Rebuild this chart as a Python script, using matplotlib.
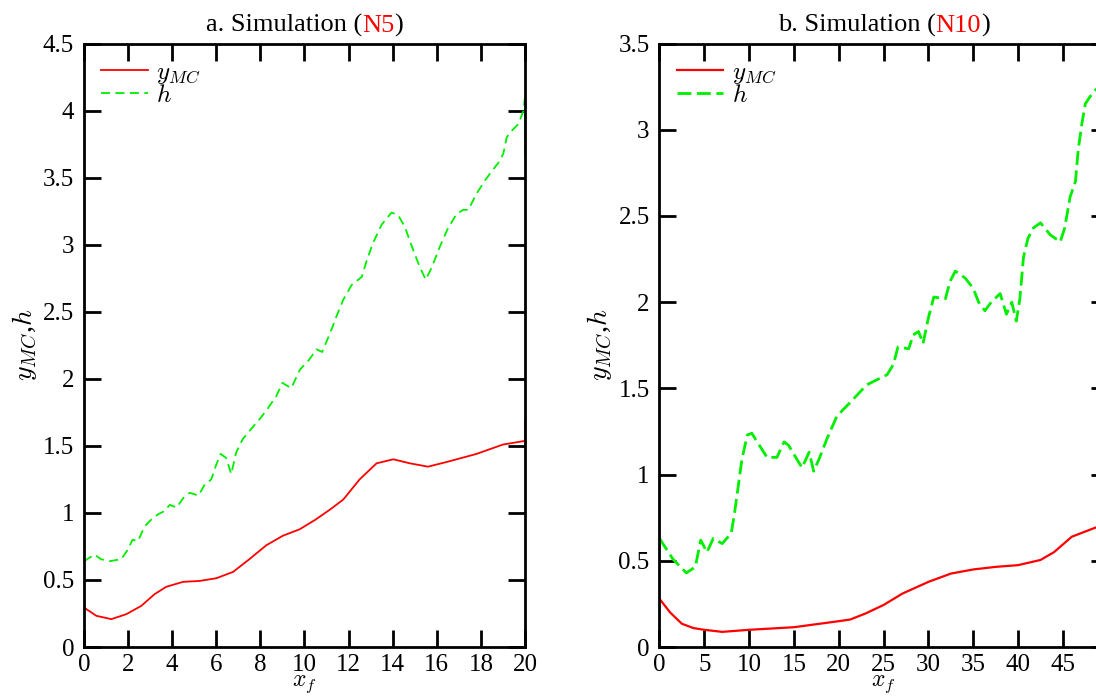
import matplotlib
matplotlib.use('Agg')
import matplotlib.pyplot as plt
from matplotlib.offsetbox import TextArea, HPacker, AnchoredOffsetbox

plt.rcParams['font.family'] = 'Liberation Serif'
plt.rcParams['mathtext.fontset'] = 'cm'

# panel a (N5)
xa_mc = [0, 0.56, 1.24, 1.92, 2.6, 3.2, 3.73, 4.49, 5.25, 6.0, 6.76, 7.5, 8.27, 9.02, 9.78,
         10.5, 11.2, 11.76, 12.5, 13.27, 14.03, 14.78, 15.6, 16.45, 17.8, 19.0, 19.92, 20.0, 20.0]
ya_mc = [0.295, 0.233, 0.208, 0.245, 0.307, 0.394, 0.449, 0.486, 0.493, 0.513, 0.56, 0.655, 0.759, 0.83, 0.878,
         0.95, 1.03, 1.10, 1.25, 1.37, 1.40, 1.37, 1.345, 1.38, 1.44, 1.51, 1.535, 1.535, 1.68]
xa_h = [0, 0.48, 0.77, 1.16, 1.7, 2.0, 2.2, 2.45, 2.75, 3.05, 3.36, 3.6, 3.9, 4.2, 4.5, 4.8, 5.2, 5.47,
        5.77, 6.0, 6.2, 6.45, 6.68, 6.9, 7.2, 7.6, 7.97, 8.34, 8.72, 9.0, 9.4, 9.8, 10.2, 10.55, 10.8,
        11.16, 11.46, 11.76, 12.14, 12.6, 12.8, 13.1, 13.5, 13.95, 14.25, 14.56, 14.93, 15.24, 15.5,
        15.77, 16.15, 16.5, 16.9, 17.2, 17.43, 17.8, 18.19, 18.41, 18.79, 19.02, 19.17, 19.4, 19.7,
        19.93, 20.0, 20.0, 20.0, 20.0]
ya_h = [0.64, 0.69, 0.655, 0.64, 0.655, 0.73, 0.80, 0.79, 0.90, 0.95, 0.99, 1.01, 1.06, 1.04, 1.11, 1.15,
        1.13, 1.21, 1.25, 1.36, 1.44, 1.41, 1.29, 1.45, 1.55, 1.63, 1.70, 1.78, 1.87, 1.97, 1.93, 2.07,
        2.14, 2.22, 2.20, 2.34, 2.47, 2.59, 2.70, 2.76, 2.87, 3.01, 3.15, 3.24, 3.22, 3.13, 2.96, 2.83,
        2.74, 2.83, 2.99, 3.12, 3.23, 3.26, 3.26, 3.38, 3.48, 3.53, 3.61, 3.68, 3.80, 3.85, 3.90,
        4.0, 4.10, 3.65, 4.05, 3.9]

# panel b (N10)
xb_mc = [0, 1.2, 2.5, 3.8, 5, 7, 10, 15, 20, 21.3, 23, 25, 27.1, 30, 32.5, 35, 37.5, 40, 42.5, 44,
         46, 48, 50]
yb_mc = [0.28, 0.20, 0.135, 0.11, 0.10, 0.088, 0.10, 0.115, 0.15, 0.16, 0.195, 0.244, 0.31, 0.378,
         0.426, 0.45, 0.465, 0.475, 0.505, 0.55, 0.64, 0.68, 0.72]
xb_h = [0, 1.5, 3.0, 4.0, 4.6, 5.3, 6.0, 7.0, 8.0, 8.3, 8.7, 9.2, 9.8, 10.3, 10.9, 12.0, 13.1, 13.9,
        14.4, 15.2, 15.9, 16.7, 17.2, 17.8, 18.7, 19.8, 21.3, 23.1, 25.4, 26.1, 26.6, 27.8, 28.3,
        28.9, 29.4, 30.0, 30.6, 31.9, 32.4, 33.0, 34.1, 35.0, 35.6, 36.3, 37.0, 38.0, 38.7, 39.3,
        39.8, 40.2, 40.6, 41.1, 41.5, 41.7, 42.5, 43.6, 44.7, 45.2, 45.8, 46.4, 46.7, 47.1, 47.5,
        48.0, 48.6, 50.0]
yb_h = [0.63, 0.51, 0.43, 0.465, 0.62, 0.55, 0.63, 0.60, 0.66, 0.75, 0.90, 1.09, 1.23, 1.24, 1.19,
        1.10, 1.10, 1.19, 1.17, 1.10, 1.04, 1.13, 1.02, 1.09, 1.21, 1.34, 1.42, 1.52, 1.58, 1.64,
        1.74, 1.73, 1.81, 1.83, 1.76, 1.91, 2.03, 2.02, 2.12, 2.18, 2.14, 2.08, 2.0, 1.95, 2.0, 2.05,
        1.93, 2.0, 1.89, 2.02, 2.26, 2.37, 2.41, 2.43, 2.46, 2.39, 2.35, 2.43, 2.61, 2.70, 2.88,
        3.03, 3.15, 3.19, 3.23, 3.28]

fs = 18

fig = plt.figure(figsize=(10.96, 6.98), dpi=100)
ax1 = fig.add_axes([0.0766, 0.073, 0.4024, 0.8646])
ax2 = fig.add_axes([0.6017, 0.073, 0.409, 0.8646])


def style_axes(ax, xmax, xstep, ymax, hide_last_x=False):
    nx = int(round(xmax / xstep)) + 1
    ny = int(round(ymax / 0.5)) + 1
    ax.set_xlim(0, xmax)
    ax.set_ylim(0, ymax)
    ax.set_xticks([i * xstep for i in range(nx)])
    xl = ['%g' % (i * xstep) for i in range(nx)]
    if hide_last_x:
        xl[-1] = ''
    ax.set_xticklabels(xl)
    ax.set_yticks([i * 0.5 for i in range(ny)])
    ax.set_yticklabels(['%g' % (i * 0.5) for i in range(ny)])
    ax.tick_params(direction='in', length=12.5, width=2, top=True, right=True,
                   labelsize=fs)
    ax.tick_params(axis='x', pad=5)
    ax.tick_params(axis='y', pad=7)
    for s in ax.spines.values():
        s.set_linewidth(2)
    ax.set_xlabel(r'$x_f$', fontsize=fs - 1, labelpad=-1.5)
    ax.set_ylabel(r'$y_{MC}$,$h$', fontsize=fs + 2, labelpad=3)
    ax.legend(loc='upper left', frameon=False, fontsize=fs, handlelength=1.85,
              labelspacing=-0.05, borderaxespad=0.35, handletextpad=0.35,
              borderpad=0.35)


def title(ax, prefix, tag):
    parts = [TextArea(prefix, textprops=dict(fontsize=fs + 1, color='black')),
             TextArea(tag, textprops=dict(fontsize=fs + 1, color='red')),
             TextArea(')', textprops=dict(fontsize=fs + 1, color='black'))]
    box = HPacker(children=parts, sep=0, pad=0, align='baseline')
    anch = AnchoredOffsetbox(loc='lower center', child=box, pad=0, borderpad=0.45,
                             bbox_to_anchor=(0.5, 1.0), bbox_transform=ax.transAxes,
                             frameon=False)
    ax.add_artist(anch)


ax1.plot(xa_mc, ya_mc, color='#ff0000', lw=1.3, label=r'$y_{MC}$')
ax1.plot(xa_h, ya_h, color='#00ee00', lw=1.3, linestyle=(0, (5, 3)), label=r'$h$')
style_axes(ax1, 20, 2, 4.5)
title(ax1, 'a. Simulation (', 'N5')

ax2.plot(xb_mc, yb_mc, color='#ff0000', lw=1.6, label=r'$y_{MC}$')
ax2.plot(xb_h, yb_h, color='#00ee00', lw=2.0, linestyle=(0, (5, 2)), label=r'$h$')
style_axes(ax2, 50, 5, 3.5, hide_last_x=True)
title(ax2, 'b. Simulation (', 'N10')

fig.savefig('out.png', dpi=100)
